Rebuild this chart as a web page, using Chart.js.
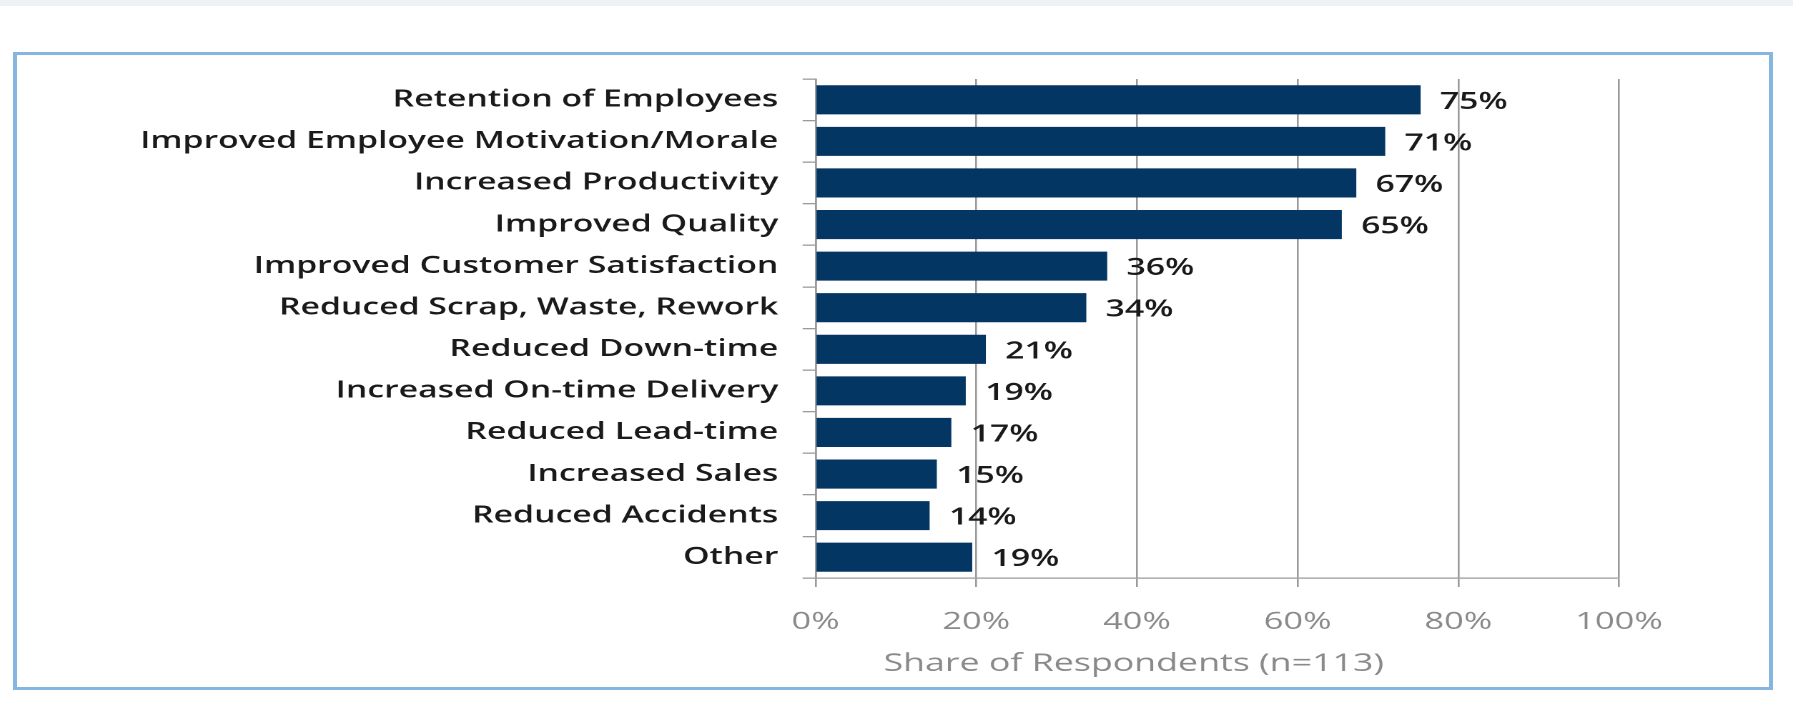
<!DOCTYPE html>
<html>
<head>
<meta charset="utf-8">
<script src="https://cdn.jsdelivr.net/npm/chart.js@4.4.1/dist/chart.umd.min.js"></script>
<style>
  html, body { margin: 0; padding: 0; background: #ffffff; width: 1793px; height: 720px; overflow: hidden; }
  #band { position: absolute; left: 0; top: 0; width: 1793px; height: 6px; background: #eef1f5; }
  #box { position: absolute; left: 13px; top: 52px; width: 1752px; height: 632px;
         border-style: solid; border-color: #86b6df; border-width: 3px 4px 3px 4px; background: #fff; }
  #inner { position: absolute; left: 0; top: 0; width: 1225px; height: 632px;
           transform: scaleX(1.43); transform-origin: 0 0; }
</style>
</head>
<body>
<div id="band"></div>
<div id="box"><div id="inner"><canvas id="c" width="1225" height="632"></canvas></div></div>
<script>
const categories = [
  'Retention of Employees',
  'Improved Employee Motivation/Morale',
  'Increased Productivity',
  'Improved Quality',
  'Improved Customer Satisfaction',
  'Reduced Scrap, Waste, Rework',
  'Reduced Down-time',
  'Increased On-time Delivery',
  'Reduced Lead-time',
  'Increased Sales',
  'Reduced Accidents',
  'Other'
];
const shareValues = [75.3, 70.9, 67.3, 65.5, 36.3, 33.7, 21.2, 18.7, 16.9, 15.1, 14.2, 19.5];
const valueLabels = ['75%', '71%', '67%', '65%', '36%', '34%', '21%', '19%', '17%', '15%', '14%', '19%'];
const xTickMin = 0;
const xTickMax = 100;
const xTickStep = 20;
const axisTitle = 'Share of Respondents (n=113)';

const FONT = '"Open Sans", "Liberation Sans", sans-serif';
const GRID = '#9a9a9a';
const LABEL_WEIGHT = '600';
const LABEL_SIZE = 23.6;

const valueLabelPlugin = {
  id: 'valueLabelPlugin',
  afterDatasetsDraw(chart) {
    const ctx = chart.ctx;
    const meta = chart.getDatasetMeta(0);
    ctx.save();
    ctx.font = LABEL_WEIGHT + ' ' + LABEL_SIZE + 'px ' + FONT;
    ctx.fillStyle = '#1a1a1a';
    ctx.textAlign = 'left';
    ctx.textBaseline = 'alphabetic';
    meta.data.forEach((bar, i) => {
      ctx.fillText(valueLabels[i], bar.x + 13.5, bar.y + 9);
    });
    ctx.restore();
  }
};

const axisTitlePlugin = {
  id: 'axisTitlePlugin',
  afterDraw(chart) {
    const ctx = chart.ctx;
    const xs = chart.scales.x;
    ctx.save();
    ctx.font = '25px ' + FONT;
    ctx.fillStyle = '#8a8a8a';
    ctx.textAlign = 'center';
    ctx.textBaseline = 'alphabetic';
    ctx.fillText(axisTitle, xs.getPixelForValue(39.6), chart.height - 16);
    ctx.restore();
  }
};

function draw() {
  new Chart(document.getElementById('c'), {
    type: 'bar',
    data: {
      labels: categories,
      datasets: [{
        data: shareValues,
        backgroundColor: '#033663',
        borderWidth: 0,
        barPercentage: 0.70,
        categoryPercentage: 1.0
      }]
    },
    options: {
      indexAxis: 'y',
      responsive: false,
      devicePixelRatio: 2,
      animation: false,
      layout: { padding: { top: 24, right: 104.7, left: 0, bottom: 0 } },
      plugins: { legend: { display: false }, tooltip: { enabled: false }, title: { display: false } },
      scales: {
        x: {
          min: xTickMin,
          max: xTickMax,
          ticks: {
            stepSize: xTickStep,
            callback: v => v + '%',
            color: '#8a8a8a',
            font: { family: FONT, size: 24 },
            padding: 21,
            maxRotation: 0
          },
          grid: { color: GRID, lineWidth: 1.3, tickLength: 9, drawTicks: true },
          border: { display: true, color: GRID, width: 1.3 },
          afterFit(scale) { scale.height = 109; }
        },
        y: {
          ticks: {
            color: '#1a1a1a',
            font: { family: FONT, size: LABEL_SIZE, weight: LABEL_WEIGHT, lineHeight: 0.55 },
            padding: 17,
            autoSkip: false
          },
          grid: { drawOnChartArea: false, color: GRID, lineWidth: 1.3, tickLength: 9, offset: true },
          border: { display: true, color: GRID, width: 1.3 },
          afterFit(scale) { scale.width = 558.4; }
        }
      }
    },
    plugins: [valueLabelPlugin, axisTitlePlugin]
  });
}

if (document.fonts && document.fonts.load) {
  Promise.all([
    document.fonts.load('24px "Open Sans"'),
    document.fonts.load(LABEL_WEIGHT + ' 24px "Open Sans"')
  ]).then(draw, draw);
} else { draw(); }
</script>
</body>
</html>
